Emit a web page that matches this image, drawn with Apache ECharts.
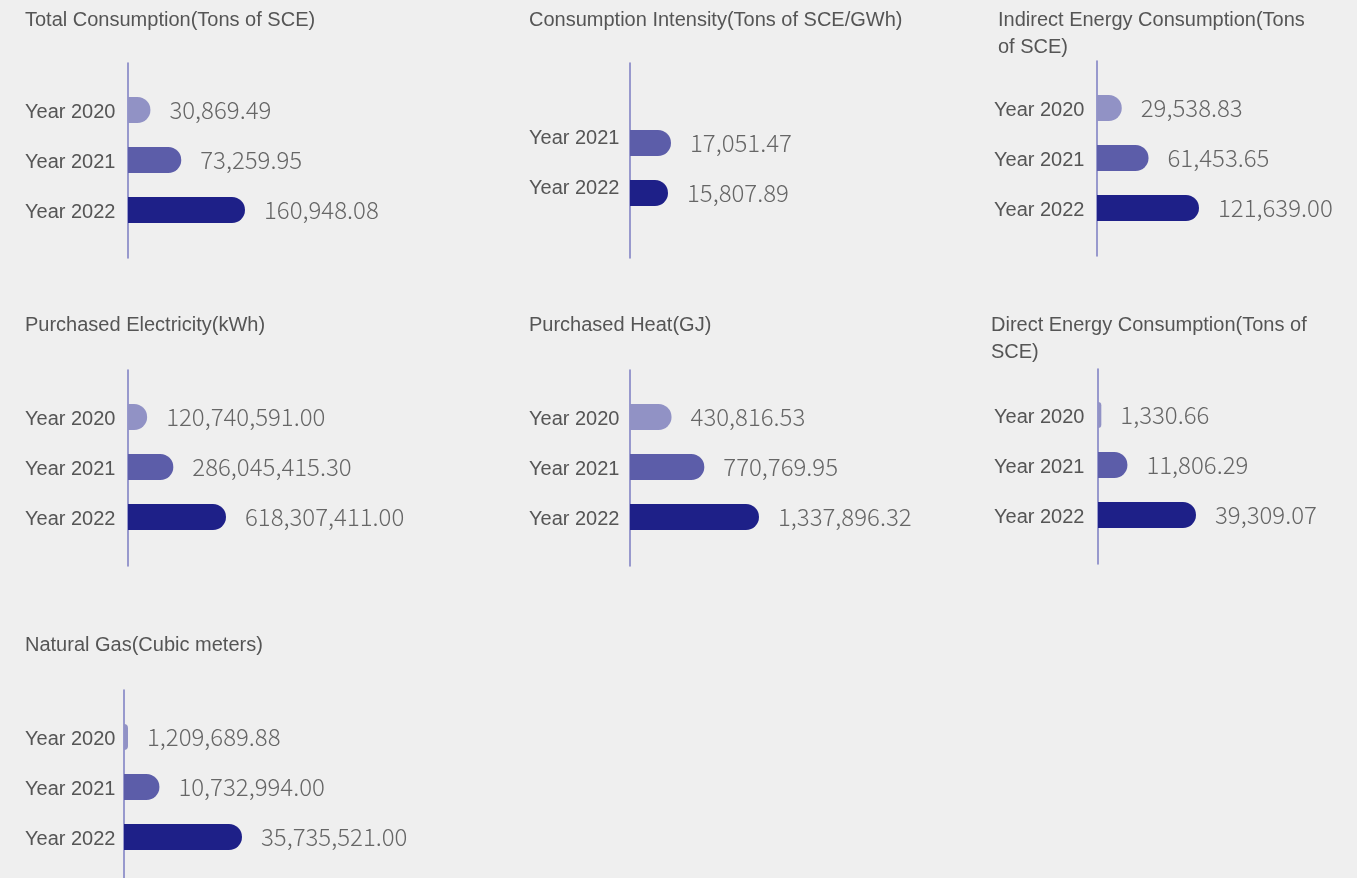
<!DOCTYPE html>
<html>
<head>
<meta charset="utf-8">
<title>Energy Consumption</title>
<script src="https://cdn.jsdelivr.net/npm/echarts@6/dist/echarts.min.js"></script>
<style>
  html, body { margin: 0; padding: 0; background: #efefef; }
  #main { width: 1357px; height: 878px; }
</style>
</head>
<body>
<div id="main"></div>
<script>
const years = ['Year 2020', 'Year 2021', 'Year 2022'];
const intensityYears = ['Year 2021', 'Year 2022'];

const totalConsumption = [30869.49, 73259.95, 160948.08];
const consumptionIntensity = [17051.47, 15807.89];
const indirectEnergy = [29538.83, 61453.65, 121639.00];
const purchasedElectricity = [120740591.00, 286045415.30, 618307411.00];
const purchasedHeat = [430816.53, 770769.95, 1337896.32];
const directEnergy = [1330.66, 11806.29, 39309.07];
const naturalGas = [1209689.88, 10732994.00, 35735521.00];

const yearColors = {
    'Year 2020': '#9192c5',
    'Year 2021': '#5c5da9',
    'Year 2022': '#1e2088'
};

// one entry per small chart: where it sits on the page
const panels = [
    { title: 'Total Consumption(Tons of SCE)', cats: years, values: totalConsumption,
      x: 25, axisX: 128, titleTop: 7, barTop: 85, lineTop: 63, lineH: 195, barLen: 117 },
    { title: 'Consumption Intensity(Tons of SCE/GWh)', cats: intensityYears, values: consumptionIntensity,
      x: 529, axisX: 630, titleTop: 7, barTop: 118, lineTop: 63, lineH: 195, barLen: 41, raiseLabels: true },
    { title: 'Indirect Energy Consumption(Tons of SCE)', cats: years, values: indirectEnergy,
      x: 998, axisX: 1097, titleTop: 7, barTop: 83, lineTop: 61, lineH: 195, barLen: 102, titleWidth: 320, labelX: 994 },
    { title: 'Purchased Electricity(kWh)', cats: years, values: purchasedElectricity,
      x: 25, axisX: 128, titleTop: 312, barTop: 392, lineTop: 370, lineH: 196, barLen: 98 },
    { title: 'Purchased Heat(GJ)', cats: years, values: purchasedHeat,
      x: 529, axisX: 630, titleTop: 312, barTop: 392, lineTop: 370, lineH: 196, barLen: 129 },
    { title: 'Direct Energy Consumption(Tons of SCE)', cats: years, values: directEnergy,
      x: 991, axisX: 1098, titleTop: 312, barTop: 390, lineTop: 369, lineH: 195, barLen: 98, titleWidth: 335, labelX: 994 },
    { title: 'Natural Gas(Cubic meters)', cats: years, values: naturalGas,
      x: 25, axisX: 124, titleTop: 632, barTop: 712, lineTop: 690, lineH: 200, barLen: 118 }
];

const fmt = v => v.toLocaleString('en-US', { minimumFractionDigits: 2, maximumFractionDigits: 2 });

const option = {
    backgroundColor: '#efefef',
    animation: false,
    title: [],
    grid: [],
    xAxis: [],
    yAxis: [],
    series: []
};

panels.forEach(p => {
    option.title.push({
        text: p.title,
        left: p.x,
        top: p.titleTop,
        padding: 0,
        textStyle: {
            fontFamily: 'Liberation Sans',
            fontSize: 20,
            fontWeight: 'normal',
            color: '#555',
            lineHeight: 27,
            width: p.titleWidth || 600,
            overflow: 'break'
        }
    });

    const gi = option.grid.length;
    // grid for the bars
    option.grid.push({ left: p.axisX, top: p.barTop, width: p.barLen, height: p.cats.length * 50 });
    // taller grid that only carries the vertical axis line
    option.grid.push({ left: p.axisX, top: p.lineTop, width: 10, height: p.lineH });

    option.xAxis.push({ gridIndex: gi, type: 'value', min: 0, max: 'dataMax', show: false });
    option.xAxis.push({ gridIndex: gi + 1, type: 'value', min: 0, max: 1, show: false });

    option.yAxis.push({
        gridIndex: gi,
        type: 'category',
        inverse: true,
        data: p.cats,
        axisLine: { show: false },
        axisTick: { show: false },
        axisLabel: {
            align: 'left',
            margin: p.axisX - (p.labelX || p.x),
            fontFamily: 'Liberation Sans',
            fontSize: 20,
            color: '#555',
            // small vertical nudge; the intensity chart has its labels sitting above the bars
            verticalAlign: p.raiseLabels ? 'bottom' : 'top',
            lineHeight: p.raiseLabels ? 9 : 4
        }
    });
    option.yAxis.push({
        gridIndex: gi + 1,
        type: 'value',
        min: 0,
        max: 1,
        axisLine: { show: true, onZero: false, lineStyle: { color: '#7b7cc2', width: 1.5 } },
        axisTick: { show: false },
        axisLabel: { show: false },
        splitLine: { show: false }
    });

    option.series.push({
        type: 'bar',
        xAxisIndex: gi,
        yAxisIndex: gi,
        data: p.values,
        barWidth: 26,
        itemStyle: {
            borderRadius: [0, 13, 13, 0],
            color: params => yearColors[params.name]
        },
        label: {
            show: true,
            position: 'right',
            distance: 19,
            fontFamily: 'Noto Sans CJK SC',
            fontWeight: 300,
            fontSize: 24,
            color: '#666',
            formatter: params => fmt(params.value)
        }
    });
});

const chart = echarts.init(document.getElementById('main'));
chart.setOption(option);
</script>
</body>
</html>
